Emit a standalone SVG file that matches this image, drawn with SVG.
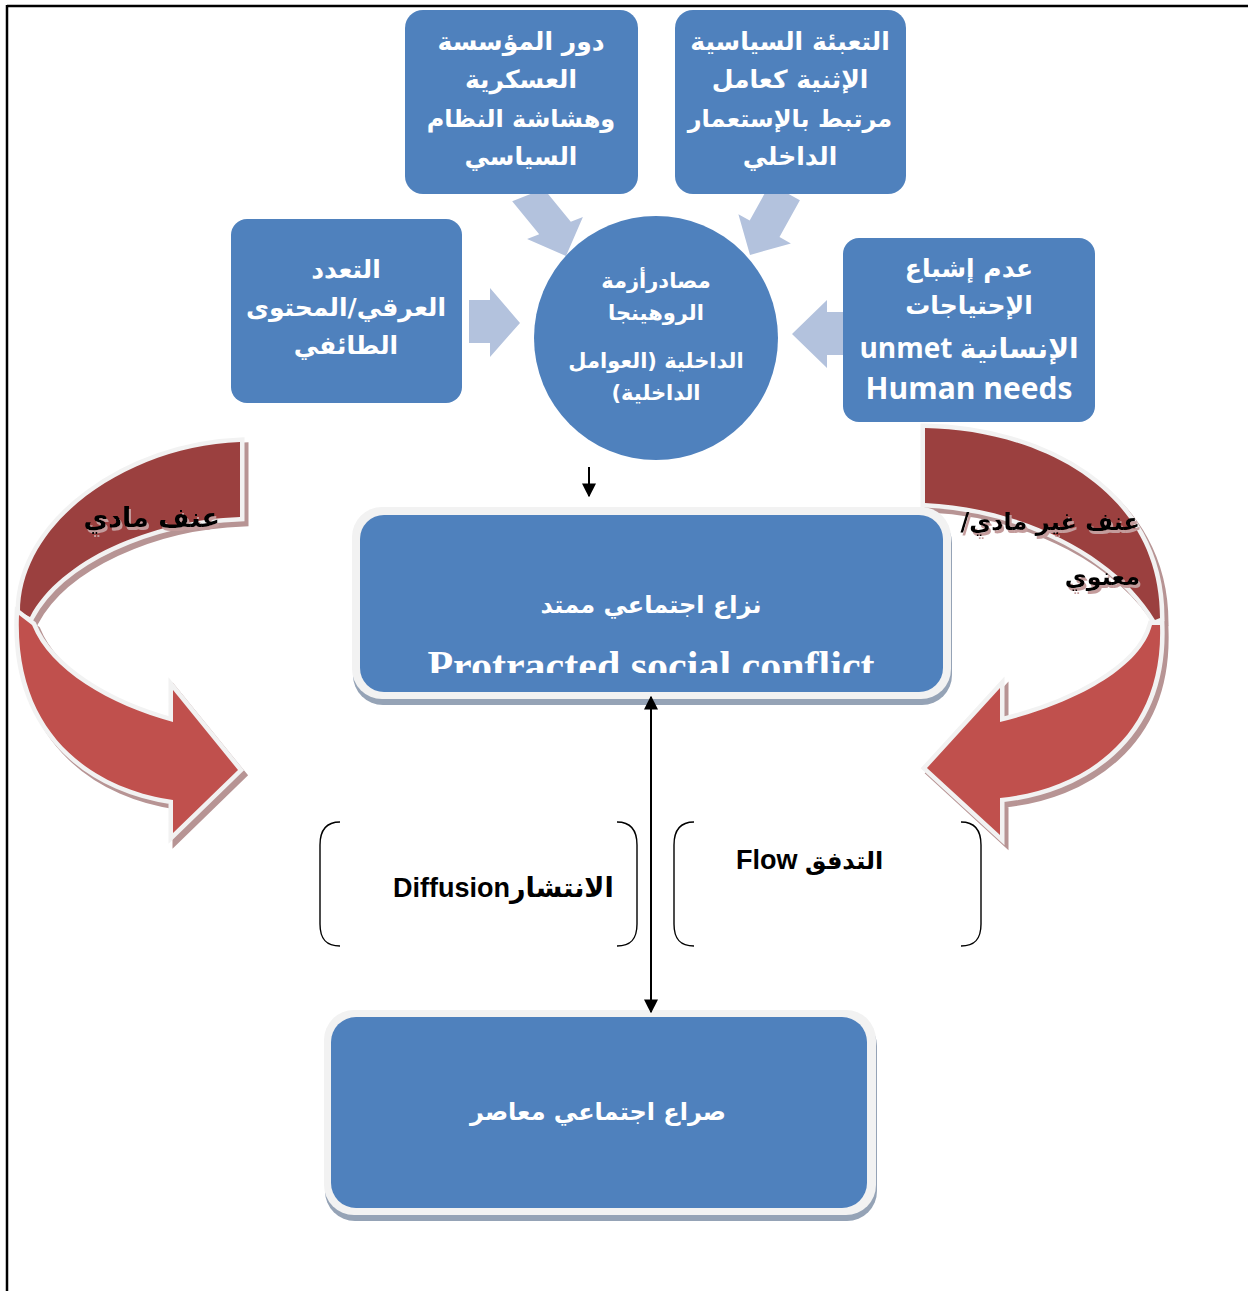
<svg xmlns="http://www.w3.org/2000/svg" width="1248" height="1291" viewBox="0 0 1248 1291">
  <defs>
    <style>
      .box { fill: #4f81bd; }
      .frame { fill: #f2f2f2; }
      .shade { fill: #95a3b6; }
      .feed { fill: #b3c2dd; }
      .lbl { fill: #ffffff; font-family: "DejaVu Sans", sans-serif; font-weight: bold; text-anchor: middle; }
      .lat { fill: #ffffff; font-family: "Open Sans", "DejaVu Sans", sans-serif; font-weight: bold; text-anchor: middle; }
      .naskh { fill: #ffffff; font-family: "DejaVu Sans", serif; font-weight: bold; text-anchor: middle; }
      .blk { fill: #000000; font-family: "Liberation Sans", "DejaVu Sans", sans-serif; font-weight: bold; }
      .vio { fill: #000000; font-family: "DejaVu Sans", serif; font-weight: bold; text-anchor: end; filter: url(#textShade); }
      .band-back { fill: #9b403f; stroke: #f2f2f2; stroke-width: 9; paint-order: stroke; stroke-linejoin: miter; }
      .band-front { fill: #c0504d; stroke: #f2f2f2; stroke-width: 9; paint-order: stroke; stroke-linejoin: miter; }
      .band-sh { fill: #b79494; stroke: #b79494; stroke-width: 9; stroke-linejoin: miter; }
      .brk { fill: none; stroke: #000000; stroke-width: 1.4; }
      .link { stroke: #000000; stroke-width: 2; fill: none; }
    </style>
    <filter id="textShade" x="-10%" y="-30%" width="120%" height="160%">
      <feDropShadow dx="2" dy="3" stdDeviation="0.6" flood-color="#c49c9c" flood-opacity="1"/>
    </filter>
    <marker id="tip" viewBox="0 0 10 10" refX="9" refY="5" markerWidth="7" markerHeight="7" orient="auto-start-reverse" markerUnits="strokeWidth">
      <path d="M0,0 L10,5 L0,10 Z" fill="#000000"/>
    </marker>
    <clipPath id="midClip">
      <rect x="360" y="515" width="583" height="158"/>
    </clipPath>
  </defs>

  <!-- page frame -->
  <g id="page-frame" stroke="#000000" stroke-width="2.5">
    <line x1="7" y1="6" x2="1248" y2="6"/>
    <line x1="7" y1="5" x2="7" y2="1291"/>
  </g>

  <!-- light feeder arrows pointing into the circle -->
  <g id="feeders">
    <polygon class="feed" points="543.8,188.7 570.8,221.7 582.9,216.9 566,256 527.1,239.1 539.2,234.3 512.2,201.3"/>
    <polygon class="feed" points="799.9,200.3 779.5,237.1 790.9,243.4 750,255 738.4,214.2 749.7,220.5 770.1,183.7"/>
    <polygon class="feed" points="469,300 490,300 490,288 520,323 490,357 490,343 469,343"/>
    <polygon class="feed" points="845,312 827,312 827,300 792,334 827,368 827,355 845,355"/>
  </g>

  <!-- source boxes -->
  <g id="node-military">
    <rect class="box" x="405" y="10" width="233" height="184" rx="18"/>
    <text class="lbl" font-size="25" x="521" y="50">دور المؤسسة</text>
    <text class="lbl" font-size="25" x="521" y="88">العسكرية</text>
    <text class="lbl" font-size="24" x="521" y="127">وهشاشة النظام</text>
    <text class="lbl" font-size="25" x="521" y="165">السياسي</text>
  </g>

  <g id="node-mobilization">
    <rect class="box" x="675" y="10" width="231" height="184" rx="18"/>
    <text class="lbl" font-size="25" x="790" y="50">التعبئة السياسية</text>
    <text class="lbl" font-size="25" x="790" y="88">الإثنية كعامل</text>
    <text class="lbl" font-size="24" x="790" y="127">مرتبط بالإستعمار</text>
    <text class="lbl" font-size="25" x="790" y="165">الداخلي</text>
  </g>

  <g id="node-ethnic">
    <rect class="box" x="231" y="219" width="231" height="184" rx="16"/>
    <text class="lbl" font-size="25" x="346" y="278">التعدد</text>
    <text class="lbl" font-size="25" x="346" y="316">العرقي/المحتوى</text>
    <text class="lbl" font-size="25" x="346" y="354">الطائفي</text>
  </g>

  <g id="node-needs">
    <rect class="box" x="843" y="238" width="252" height="184" rx="16"/>
    <text class="lbl" font-size="25" x="969" y="277">عدم إشباع</text>
    <text class="lbl" font-size="25" x="969" y="314">الإحتياجات</text>
    <text class="lat" font-size="28" x="969" y="358">unmet  الإنسانية</text>
    <text class="lat" font-size="30" x="969" y="399">Human needs</text>
  </g>

  <g id="node-sources">
    <circle class="box" cx="656" cy="338" r="122"/>
    <text class="lbl" font-size="21" x="656" y="288" direction="rtl">مصادرأزمة</text>
    <text class="lbl" font-size="21" x="656" y="320" direction="rtl">الروهينجا</text>
    <text class="lbl" font-size="21" x="656" y="368" direction="rtl">الداخلية (العوامل</text>
    <text class="lbl" font-size="21" x="656" y="400" direction="rtl">الداخلية)</text>
  </g>

  <!-- curved violence arrows -->
  <g id="node-physical-violence">
    <g transform="translate(4,5)">
      <path class="band-sh" d="M240,442 C130,446 20,520 20,612 L30,617 C60,560 150,520 240,517 Z"/>
      <path class="band-sh" d="M19,615 C14,740 100,790 173,800 L173,833 L238,770 L173,690 L173,722 C110,705 50,670 32,625 Z"/>
    </g>
    <path class="band-back" d="M240,442 C130,446 20,520 20,612 L30,617 C60,560 150,520 240,517 Z"/>
    <path class="band-front" d="M19,615 C14,740 100,790 173,800 L173,833 L238,770 L173,690 L173,722 C110,705 50,670 32,625 Z"/>
    <text class="vio" font-size="27" x="220" y="527">عنف مادي</text>
  </g>

  <g id="node-nonphysical-violence">
    <g transform="translate(4,5)">
      <path class="band-sh" d="M925,428 C1040,430 1160,490 1160,618 L1155,620 C1120,560 1030,508 925,503 Z"/>
      <path class="band-sh" d="M1160,625 C1164,740 1080,790 1000,798 L1000,835 L927,768 L1000,688 L1000,722 C1070,705 1140,670 1152,625 Z"/>
    </g>
    <path class="band-back" d="M925,428 C1040,430 1160,490 1160,618 L1155,620 C1120,560 1030,508 925,503 Z"/>
    <path class="band-front" d="M1160,625 C1164,740 1080,790 1000,798 L1000,835 L927,768 L1000,688 L1000,722 C1070,705 1140,670 1152,625 Z"/>
    <text class="vio" font-size="24" x="1140" y="530">/عنف غير مادي</text>
    <text class="vio" font-size="24" x="1140" y="585">معنوي</text>
  </g>

  <!-- protracted conflict box -->
  <g id="node-protracted">
    <rect class="shade" x="353" y="513" width="599" height="192" rx="30"/>
    <rect class="frame" x="352" y="507" width="599" height="192" rx="30"/>
    <rect class="box" x="360" y="515" width="583" height="177" rx="24"/>
    <text class="naskh" font-size="24" x="651" y="613">نزاع اجتماعي ممتد</text>
    <text clip-path="url(#midClip)" fill="#ffffff" font-family="'Liberation Serif', serif" font-weight="bold" font-size="42" text-anchor="middle" x="651" y="680">Protracted social conflict</text>
  </g>

  <!-- contemporary conflict box -->
  <g id="node-contemporary">
    <rect class="shade" x="325" y="1016" width="552" height="205" rx="30"/>
    <rect class="frame" x="324" y="1010" width="552" height="205" rx="30"/>
    <rect class="box" x="331" y="1017" width="536" height="191" rx="25"/>
    <text class="naskh" font-size="24" x="598" y="1120">صراع اجتماعي معاصر</text>
  </g>

  <!-- diffusion / flow brackets -->
  <g id="node-diffusion">
    <path class="brk" d="M340,822 C326,822 320,830 320,845 L320,924 C320,939 326,946 340,946"/>
    <path class="brk" d="M617,822 C631,822 637,830 637,845 L637,924 C637,939 631,946 617,946"/>
    <text class="blk" font-size="27" x="393" y="897">Diffusionالانتشار</text>
  </g>

  <g id="node-flow">
    <path class="brk" d="M694,822 C680,822 674,830 674,845 L674,924 C674,939 680,946 694,946"/>
    <path class="brk" d="M961,822 C975,822 981,830 981,845 L981,924 C981,939 975,946 961,946"/>
    <text class="blk" font-size="27" x="736" y="869">Flow <tspan font-size="24">التدفق</tspan></text>
  </g>

  <!-- connectors -->
  <g id="connectors">
    <line class="link" x1="589" y1="467" x2="589" y2="496" marker-end="url(#tip)"/>
    <line class="link" x1="651" y1="697" x2="651" y2="1012" marker-start="url(#tip)" marker-end="url(#tip)"/>
  </g>
</svg>
